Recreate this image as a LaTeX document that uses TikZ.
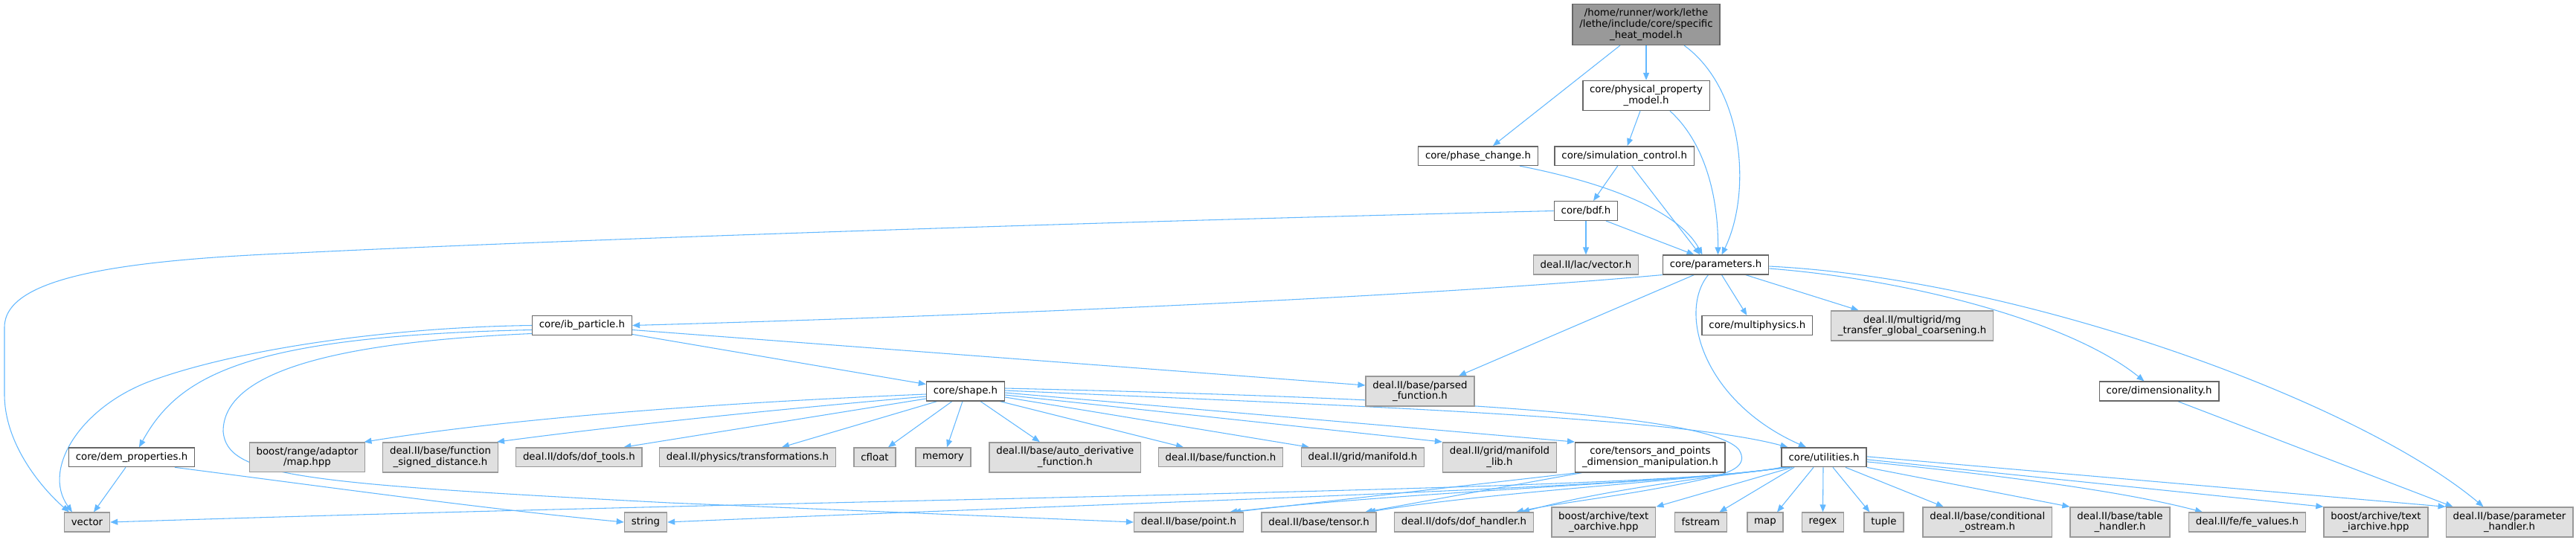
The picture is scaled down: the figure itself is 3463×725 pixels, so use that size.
\documentclass[tikz,border=0pt]{standalone}
\usepackage{fontspec}
\setmainfont{DejaVu Sans}
\usetikzlibrary{arrows.meta, backgrounds, calc}
\definecolor{edgeblue}{HTML}{63B8FF}
\definecolor{boxgrey}{HTML}{666666}
\definecolor{extgrey}{HTML}{999999}
\definecolor{extfill}{HTML}{E0E0E0}
\definecolor{rootfill}{HTML}{999999}

\begin{document}
\begin{tikzpicture}[x=0.75pt, y=-0.75pt, font=\fontsize{10}{11}\selectfont,
    file/.style={draw=boxgrey, fill=white, line width=1.1pt, inner xsep=7pt, inner ysep=4.5pt, minimum height=19.2pt, align=center},
    ext/.style={file, draw=extgrey, fill=extfill},
    rootnode/.style={file, fill=rootfill},
    dep/.style={draw=edgeblue, line width=0.8pt, -{Triangle[length=7.5pt, width=6pt]}}]
    \useasboundingbox (0,0) rectangle (3463,725);
    % upper part of the graph
    \node[rootnode] (root) at (2213,33) {/home/runner/work/lethe\\/lethe/include/core/specific\\\_heat\_model.h};
    \node[file] (physprop) at (2213,128.5) {core/physical\_property\\\_model.h};
    \node[file] (phasechg) at (1987,209.6) {core/phase\_change.h};
    \node[file] (simctrl) at (2183.7,209.6) {core/simulation\_control.h};
    \node[file] (bdf) at (2132,283.5) {core/bdf.h};
    \node[ext] (lacvec) at (2132,356) {deal.II/lac/vector.h};
    \node[file] (params) at (2306.5,356) {core/parameters.h};
    \node[file] (ibpart) at (782.5,437.5) {core/ib\_particle.h};
    \node[file] (multiphys) at (2362.4,437.5) {core/multiphysics.h};
    \node[ext] (mgtransfer) at (2570.6,438) {deal.II/multigrid/mg\\\_transfer\_global\_coarsening.h};
    \node[file] (shape) at (1298,526) {core/shape.h};
    \node[ext] (parsedfn) at (1909,526) {deal.II/base/parsed\\\_function.h};
    \node[file] (dimens) at (2902.5,526) {core/dimensionality.h};
    % row of the shape and utilities headers
    \node[file] (demprop) at (177,614.8) {core/dem\_properties.h};
    \node[ext] (rangemap) at (413,614.8) {boost/range/adaptor\\/map.hpp};
    \node[ext] (signdist) at (592,614.8) {deal.II/base/function\\\_signed\_distance.h};
    \node[ext] (doftools) at (778.4,614.8) {deal.II/dofs/dof\_tools.h};
    \node[ext] (transf) at (1005,614.8) {deal.II/physics/transformations.h};
    \foreach \n/\x in {cfloat/1176, memory/1268}
      \node[ext] (\n) at (\x,614.8) {\n};
    \node[ext] (autoderiv) at (1431.8,614.8) {deal.II/base/auto\_derivative\\\_function.h};
    \node[ext] (function) at (1641,614.8) {deal.II/base/function.h};
    \node[ext] (manifold) at (1832,614.8) {deal.II/grid/manifold.h};
    \node[ext] (manifoldlib) at (2016,614.8) {deal.II/grid/manifold\\\_lib.h};
    \node[file] (tensorsdim) at (2218.4,614.8) {core/tensors\_and\_points\\\_dimension\_manipulation.h};
    \node[file] (utilities) at (2452,614.8) {core/utilities.h};
    % bottom row
    \foreach \n/\x in {vector/117, string/868, fstream/2286.4, map/2373, regex/2450.5, tuple/2532.4}
      \node[ext] (\n) at (\x,702) {\n};
    \node[ext] (point) at (1598,702) {deal.II/base/point.h};
    \node[ext] (tensor) at (1773,702) {deal.II/base/tensor.h};
    \node[ext] (dofhandler) at (1968,702) {deal.II/dofs/dof\_handler.h};
    \node[ext] (oarchive) at (2155.8,702) {boost/archive/text\\\_oarchive.hpp};
    \node[ext] (condostream) at (2671.8,702) {deal.II/base/conditional\\\_ostream.h};
    \node[ext] (tablehandler) at (2850,702) {deal.II/base/table\\\_handler.h};
    \node[ext] (fevalues) at (3021,702) {deal.II/fe/fe\_values.h};
    \node[ext] (iarchive) at (3194,702) {boost/archive/text\\\_iarchive.hpp};
    \node[ext] (paramhandler) at (3373.5,702) {deal.II/base/parameter\\\_handler.h};

    \begin{scope}[on background layer]
    \draw[dep] ($(root.south)+(-35,0)$) -- ($(phasechg.north)+(20,0)$);
    \draw[dep] (root) -- (physprop);
    \draw[dep] ($(root.south)+(51,0)$) .. controls (2345,120) and (2355,260) .. ($(params.north)+(8,0)$);
    \draw[dep] ($(physprop.south)+(-8,0)$) -- ($(simctrl.north)+(4,0)$);
    \draw[dep] ($(physprop.south)+(32,0)$) .. controls (2290,190) and (2310,260) .. ($(params.north)+(3,0)$);
    \draw[dep] ($(phasechg.south)+(56,0)$) .. controls (2180,250) and (2260,290) .. ($(params.north)+(-18,0)$);
    \draw[dep] ($(simctrl.south)+(-9,0)$) -- ($(bdf.north)+(10,0)$);
    \draw[dep] ($(simctrl.south)+(10,0)$) -- ($(params.north)+(-21,0)$);
    \draw[dep] ($(bdf.south)+(27,0)$) -- ($(params.north)+(-29,0)$);
    \draw[dep] (bdf) -- (lacvec);
    % bdf.h goes the long way round to vector
    \draw[dep] (bdf.west) .. controls (1400,300) and (700,325) .. (400,340)
      .. controls (150,350) and (6,375) .. (6,440) -- (6,530)
      .. controls (6,600) and (60,660) .. ($(vector.north)+(-24,0)$);
    \draw[dep] (params.south west) .. controls (1900,400) and (1300,425) .. (ibpart.east);
    \draw[dep] ($(params.south)+(-29,0)$) -- ($(parsedfn.north)+(52,0)$);
    \draw[dep] ($(params.south)+(-10,0)$) .. controls (2255,420) and (2290,540) .. ($(utilities.north)+(-24,0)$);
    \draw[dep] ($(params.south)+(8,0)$) -- ($(multiphys.north)+(-14,0)$);
    \draw[dep] ($(params.south)+(40,0)$) -- ($(mgtransfer.north)+(-72,0)$);
    \draw[dep] ($(params.east)+(0,5)$) .. controls (2560,375) and (2780,430) .. ($(dimens.north)+(-20,0)$);
    \draw[dep] ($(params.east)+(0,2)$) .. controls (2720,375) and (3170,540) .. ($(paramhandler.north)+(-35,0)$);
    % ib particle
    \draw[dep] (ibpart.west) .. controls (520,440) and (320,470) .. (206,511)
      .. controls (110,545) and (55,630) .. ($(vector.north)+(-20,0)$);
    \draw[dep] ($(ibpart.west)+(0,6)$) .. controls (330,452) and (240,505) .. ($(demprop.north)+(10,0)$);
    \draw[dep] ($(ibpart.west)+(0,11)$) .. controls (450,460) and (300,500) .. (300,580)
      .. controls (305,640) and (400,650) .. (900,676) -- (point.west);
    \draw[dep] ($(ibpart.east)+(0,12)$) -- (shape.170);
    \draw[dep] ($(ibpart.east)+(0,6)$) -- ($(parsedfn.west)+(0,-8)$);
    \draw[dep] ($(demprop.south)+(-8,0)$) -- ($(vector.north)+(9,0)$);
    \draw[dep] ($(demprop.south)+(58,0)$) .. controls (450,656) and (650,684) .. (string.west);
    % shape
    \draw[dep] ($(shape.west)+(0,4)$) .. controls (1000,540) and (700,560) .. ($(rangemap.north east)+(-2,0)$);
    \draw[dep] ($(shape.west)+(0,7)$) .. controls (1050,550) and (850,570) .. ($(signdist.north east)+(-2,0)$);
    \draw[dep] ($(shape.west)+(0,10)$) -- ($(doftools.north)+(60,0)$);
    \draw[dep] ($(shape.south)+(-38,0)$) -- ($(transf.north)+(46,0)$);
    \draw[dep] ($(shape.south)+(-18,0)$) -- ($(cfloat.north)+(18,0)$);
    \draw[dep] ($(shape.south)+(-4,0)$) -- ($(memory.north)+(5,0)$);
    \draw[dep] ($(shape.south)+(20,0)$) -- ($(autoderiv.north)+(-34,0)$);
    \draw[dep] ($(shape.south)+(46,0)$) -- ($(function.north)+(-50,0)$);
    \draw[dep] ($(shape.east)+(0,8)$) -- ($(manifold.north)+(-72,0)$);
    \draw[dep] ($(shape.east)+(0,5)$) -- (manifoldlib.north west);
    \draw[dep] ($(shape.east)+(0,2)$) -- (tensorsdim.north west);
    \draw[dep] ($(shape.east)+(0,-1)$) .. controls (1800,545) and (2250,560) .. ($(utilities.north west)+(9,0)$);
    \draw[dep] ($(shape.east)+(0,-4)$) .. controls (1900,535) and (2300,555) .. (2338,605)
      .. controls (2350,625) and (2330,634) .. (2300,642)
      .. controls (2200,665) and (2100,675) .. ($(dofhandler.north)+(70,0)$);
    \draw[dep] ($(tensorsdim.south west)+(5,0)$) -- ($(point.north)+(60,0)$);
    \draw[dep] ($(tensorsdim.south west)+(10,0)$) -- ($(tensor.north)+(62,0)$);
    % utilities
    \draw[dep] (utilities.south west) .. controls (2250,660) and (1200,668) .. (vector.east);
    \draw[dep] ($(utilities.south west)+(3,0)$) .. controls (2250,655) and (1500,676) .. (string.east);
    \draw[dep] ($(utilities.south west)+(6,0)$) .. controls (2250,650) and (1900,660) .. ($(point.north)+(55,0)$);
    \draw[dep] ($(utilities.south west)+(9,0)$) .. controls (2250,648) and (2000,662) .. ($(tensor.north)+(66,0)$);
    \draw[dep] ($(utilities.south west)+(12,0)$) .. controls (2300,640) and (2150,660) .. ($(dofhandler.north)+(78,0)$);
    \draw[dep] ($(utilities.south west)+(15,0)$) -- (oarchive.north east);
    \draw[dep] ($(utilities.south)+(-40,0)$) -- ($(fstream.north)+(25,0)$);
    \draw[dep] ($(utilities.south)+(-14,0)$) -- ($(map.north)+(16,0)$);
    \draw[dep] ($(utilities.south)+(-1,0)$) -- (regex.north);
    \draw[dep] ($(utilities.south)+(12,0)$) -- ($(tuple.north)+(-19,0)$);
    \draw[dep] ($(utilities.south)+(29,0)$) -- ($(condostream.north)+(-59,0)$);
    \draw[dep] (utilities.south east) -- (tablehandler.north west);
    \draw[dep] ($(utilities.east)+(0,6)$) .. controls (2750,645) and (2880,667) .. ($(fevalues.north)+(-60,0)$);
    \draw[dep] ($(utilities.east)+(0,3)$) -- (iarchive.north west);
    \draw[dep] ($(utilities.east)+(0,-1)$) -- (paramhandler.north west);
    \draw[dep] ($(dimens.south)+(25,0)$) -- ($(paramhandler.north)+(-76,0)$);
    \end{scope}
\end{tikzpicture}
\end{document}
